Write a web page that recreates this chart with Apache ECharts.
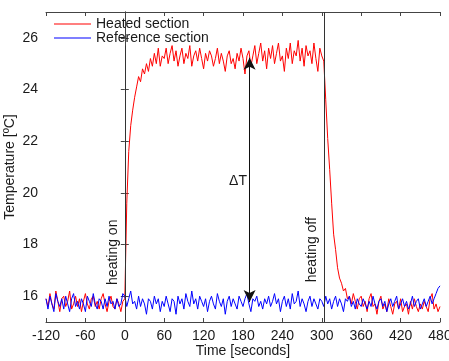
<!DOCTYPE html>
<html>
<head>
<meta charset="utf-8">
<script src="https://cdn.jsdelivr.net/npm/echarts@6/dist/echarts.min.js"></script>
<style>
  html, body { margin: 0; padding: 0; background: #fff; }
  #chart { width: 449px; height: 361px; }
</style>
</head>
<body>
<div id="chart"></div>
<script>
// sampling of the recorded traces (seconds)
var tStart = -120
var tStep = 3

// heated section temperature [ºC]
var heated = [
  15.9, 15.6, 16.1, 15.7, 15.5, 16.2, 15.8, 15.4, 15.9, 16.0,
  15.6, 15.8, 16.2, 15.5, 15.7, 16.0, 15.6, 15.9, 15.4, 15.8,
  16.1, 15.7, 15.5, 15.9, 16.0, 15.6, 15.8, 15.5, 15.9, 16.1,
  15.7, 15.4, 15.8, 16.0, 15.6, 15.5, 15.9, 15.7, 15.4, 15.8,
  15.9, 19.6, 21.6, 22.6, 23.2, 23.7, 24.1, 24.5, 24.3, 24.8,
  24.6, 25.0, 24.7, 25.2, 24.9, 25.4, 25.0, 25.6, 24.9, 25.3,
  25.2, 25.6, 25.0, 25.4, 25.7, 25.1, 25.5, 24.9, 25.3, 25.6,
  25.0, 25.4, 25.2, 25.7, 24.9, 25.3, 25.5, 25.1, 25.6, 25.2,
  24.8, 25.4, 25.1, 25.5, 25.3, 24.9, 25.2, 25.6, 25.0, 25.4,
  25.1, 24.7, 25.3, 25.5, 25.0, 25.2, 24.8, 25.4, 25.1, 25.6,
  25.2, 24.6, 25.3, 25.5, 24.9, 25.3, 25.7, 25.0, 25.4, 25.8,
  25.1, 25.5, 24.8, 25.6, 25.2, 25.7, 25.0, 25.4, 25.8, 25.1,
  25.3, 24.7, 25.6, 25.2, 25.8, 25.0, 25.5, 25.3, 25.9, 25.1,
  25.6, 24.9, 25.7, 25.3, 25.5, 25.0, 25.8, 25.2, 24.7, 25.6,
  25.3, 25.1, 23.6, 22.1, 20.9, 19.6, 18.4, 17.8, 17.1, 16.7,
  16.5, 16.2, 16.3, 15.9, 16.0, 15.7, 16.1, 15.8, 15.5, 15.9,
  16.0, 15.6, 15.8, 15.4, 15.9, 16.1, 15.6, 15.7, 15.3, 15.8,
  16.0, 15.5, 15.7, 15.4, 15.9, 15.6, 15.3, 15.7, 15.8, 15.5,
  15.9, 15.4, 15.6, 15.7, 15.3, 15.8, 15.5, 15.9, 15.6, 15.4,
  15.7, 15.5, 15.8, 15.6, 15.4, 15.9, 16.1, 15.5, 15.7, 15.4,
  15.6
]

// reference section temperature [ºC]
var reference = [
  15.9, 15.5, 16.0, 15.7, 15.4, 16.1, 15.8, 15.6, 15.9, 15.5,
  16.0, 15.7, 15.4, 15.9, 16.1, 15.6, 15.8, 15.5, 15.9, 15.7,
  15.4, 16.0, 15.8, 15.6, 16.1, 15.7, 15.5, 15.9, 15.8, 15.5,
  15.9, 15.6, 16.0, 15.7, 15.8, 15.5, 15.9, 15.6, 15.7, 16.1,
  16.0, 15.6, 15.9, 16.2, 15.7, 15.8, 15.5, 16.0, 15.6, 15.9,
  15.7, 15.3, 15.9, 15.8, 15.5, 16.0, 15.7, 15.9, 15.4, 15.8,
  15.6, 16.0, 15.7, 15.4, 15.9, 15.8, 15.3, 16.0, 15.7, 15.9,
  15.5, 16.1, 15.8, 15.6, 16.2, 15.7, 15.9, 15.5, 16.0, 15.8,
  15.6, 15.9, 15.4, 15.8, 16.0, 15.7, 15.5, 16.1, 15.8, 15.6,
  15.9, 15.3, 15.8, 16.0, 15.6, 15.9, 15.7, 15.5, 16.0, 15.8,
  15.6, 15.9, 16.1, 15.7, 15.4, 15.9, 15.8, 16.0, 15.6, 15.8,
  15.5, 15.9, 15.7, 16.0, 15.6, 15.8, 16.1, 15.7, 15.9, 15.4,
  15.8, 16.0, 15.6, 15.9, 15.5, 16.1, 15.7, 15.8, 16.2, 15.6,
  15.9, 15.7, 15.4, 15.8, 16.0, 15.6, 15.9, 15.7, 15.5, 15.9,
  15.8, 15.6, 16.0, 15.7, 15.9, 15.5, 15.8, 16.0, 15.6, 15.9,
  15.7, 15.4, 15.9, 15.8, 16.0, 15.6, 15.8, 15.5, 15.9, 15.7,
  15.6, 15.9, 15.7, 15.5, 15.8, 15.6, 16.0, 15.7, 15.5, 15.8,
  15.9, 15.6, 15.8, 15.4, 15.7, 15.9, 15.6, 15.8, 16.0, 15.5,
  15.7, 15.9, 15.6, 15.8, 15.5, 15.7, 16.0, 15.6, 15.8, 15.9,
  15.5, 15.7, 15.9, 15.6, 15.8, 16.0, 15.7, 15.9, 16.1, 16.3,
  16.4
]

var xTicks = [-120, -60, 0, 60, 120, 180, 240, 300, 360, 420, 480]
var yTicks = [16, 18, 20, 22, 24, 26]

// annotations (data units)
var heatOnT = 0
var heatOnTop = 25.7
var heatOffT = 303
var deltaT = 190
var deltaLow = 15.77
var deltaHigh = 25.23

var times = []
for (var i = 0; i < heated.length; i++) {
  times.push(tStart + tStep * i)
}

var frame = '#444'
var txt = '#1a1a1a'
var font = 'Liberation Sans, Arial, sans-serif'

var chart = echarts.init(document.getElementById('chart'))

var option = {
  animation: false,
  grid: {
    left: 46,
    right: 9,
    top: 12,
    bottom: 39,
    outerBoundsMode: 'none'
  },
  legend: {
    orient: 'vertical',
    left: 54,
    top: 17,
    padding: 0,
    itemGap: 0,
    itemWidth: 37,
    itemHeight: 1,
    icon: 'rect',
    textStyle: { fontSize: 14, color: txt, fontFamily: font },
    data: ['Heated section', 'Reference section']
  },
  xAxis: [{
    type: 'value',
    min: -120,
    max: 480,
    interval: 60,
    name: 'Time [seconds]',
    nameLocation: 'middle',
    nameGap: 22,
    nameMoveOverlap: false,
    nameTextStyle: { fontSize: 14, color: txt, fontFamily: font },
    axisLine: { lineStyle: { color: frame } },
    axisTick: { inside: true, length: 4, lineStyle: { color: frame } },
    axisLabel: { fontSize: 14, color: txt, fontFamily: font, margin: 7, customValues: xTicks },
    splitLine: { show: false }
  }, {
    type: 'value',
    position: 'top',
    min: -120,
    max: 480,
    interval: 60,
    axisLine: { show: true, lineStyle: { color: frame } },
    axisTick: { inside: true, length: 4, lineStyle: { color: frame } },
    axisLabel: { show: false },
    splitLine: { show: false }
  }],
  yAxis: [{
    type: 'value',
    min: 15,
    max: 27,
    interval: 1,
    name: 'Temperature [ºC]',
    nameLocation: 'middle',
    nameGap: 29,
    nameMoveOverlap: false,
    nameTextStyle: { fontSize: 14, color: txt, fontFamily: font },
    axisLine: { show: true, lineStyle: { color: frame } },
    axisTick: { show: true, inside: true, length: 4, customValues: yTicks, lineStyle: { color: frame } },
    axisLabel: { fontSize: 14, color: txt, fontFamily: font, margin: 8, customValues: yTicks },
    splitLine: { show: false }
  }, {
    type: 'value',
    position: 'right',
    min: 15,
    max: 27,
    interval: 1,
    axisLine: { show: true, lineStyle: { color: frame } },
    axisTick: { show: true, inside: true, length: 4, customValues: yTicks, lineStyle: { color: frame } },
    axisLabel: { show: false },
    splitLine: { show: false }
  }],
  series: [{
    name: 'Heated section',
    type: 'line',
    symbol: 'none',
    color: '#ff0000',
    lineStyle: { width: 1, color: '#ff0000' },
    data: heated.map(function (v, i) { return [times[i], v] }),
    markLine: {
      silent: true,
      symbol: 'none',
      label: { show: false },
      lineStyle: { color: '#333', width: 1, type: 'solid' },
      data: [
        [{ coord: [heatOnT, 15] }, { coord: [heatOnT, heatOnTop] }],
        [{ coord: [heatOffT, 15] }, { coord: [heatOffT, 27] }]
      ]
    }
  }, {
    name: 'Reference section',
    type: 'line',
    symbol: 'none',
    color: '#0000ff',
    lineStyle: { width: 1, color: '#0000ff' },
    data: reference.map(function (v, i) { return [times[i], v] }),
    markLine: {
      silent: true,
      symbol: ['arrow', 'arrow'],
      symbolSize: [9, 12],
      label: { show: false },
      lineStyle: { color: '#111', width: 1, type: 'solid' },
      data: [
        [{ coord: [deltaT, deltaLow] }, { coord: [deltaT, deltaHigh] }]
      ]
    }
  }]
}
chart.setOption(option)

// annotation texts, anchored to data positions
var pOn = chart.convertToPixel({ gridIndex: 0 }, [-18, 17.7])
var pOff = chart.convertToPixel({ gridIndex: 0 }, [286, 17.8])
var pDelta = chart.convertToPixel({ gridIndex: 0 }, [deltaT - 4, 20.45])
chart.setOption({
  graphic: [{
    type: 'text',
    x: pOn[0],
    y: pOn[1],
    rotation: Math.PI / 2,
    style: { text: 'heating on', fontSize: 14, fontFamily: font, fill: txt, align: 'center', verticalAlign: 'middle' }
  }, {
    type: 'text',
    x: pOff[0],
    y: pOff[1],
    rotation: Math.PI / 2,
    style: { text: 'heating off', fontSize: 14, fontFamily: font, fill: txt, align: 'center', verticalAlign: 'middle' }
  }, {
    type: 'text',
    x: pDelta[0],
    y: pDelta[1],
    style: { text: 'ΔT', fontSize: 14, fontFamily: font, fill: txt, align: 'right', verticalAlign: 'middle' }
  }]
})
</script>
</body>
</html>
